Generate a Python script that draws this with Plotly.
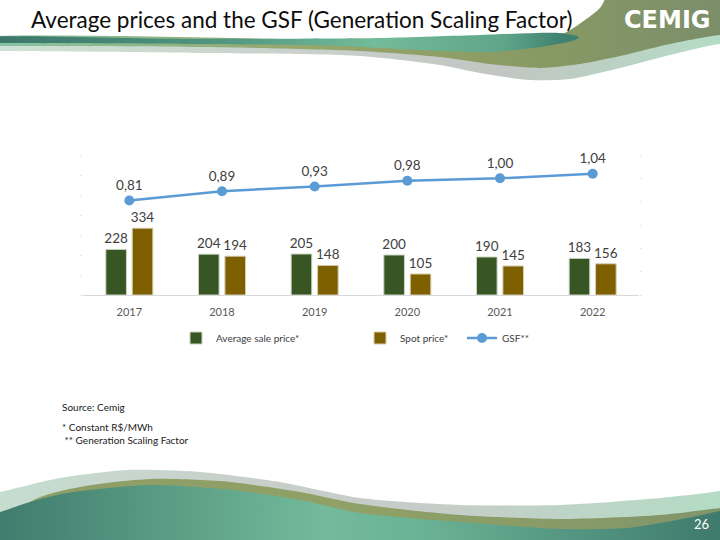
import plotly.graph_objects as go

# ---------------- data ----------------
years = ["2017", "2018", "2019", "2020", "2021", "2022"]
avg_sale_price = [228, 204, 205, 200, 190, 183]
spot_price = [334, 194, 148, 105, 145, 156]
gsf = [0.81, 0.89, 0.93, 0.98, 1.00, 1.04]

title_text = "Average prices and the GSF (Generation Scaling Factor)"
legend_names = ["Average sale price*", "Spot price*", "GSF**"]
notes = ["Source: Cemig", "* Constant R$/MWh", " ** Generation Scaling Factor"]
page_number = "26"

# ---------------- helpers ----------------
W, H = 720, 540
FONT = "Lato"
LABEL_SIZE = 13.5


def px(x):
    return x / W


def py(y):
    return 1 - y / H


fig = go.Figure()


def deco(points, stops):
    xs = [p[0] for p in points] + [points[0][0]]
    ys = [p[1] for p in points] + [points[0][1]]
    fig.add_trace(go.Scatter(
        x=xs, y=ys, mode="lines",
        line=dict(width=0, shape="spline", smoothing=0.7, color="rgba(0,0,0,0)"),
        fill="toself",
        fillgradient=dict(type="horizontal", colorscale=stops, start=0, stop=720),
        xaxis="x3", yaxis="y3", hoverinfo="skip", showlegend=False))


# ---------- header decoration ----------
deco([(-40, 40), (200, 40), (400, 40), (560, 38), (720, 28), (760, 28), (760, 44),
      (720, 44), (670, 55), (620, 68), (570, 79), (530, 80), (480, 73), (440, 65),
      (360, 56), (200, 53), (0, 51), (-40, 51)],
     [[0, "#cfe1d6"], [0.45, "#c9cfcb"], [0.7, "#c2c6c3"], [1, "#b4dcc5"]])

deco([(612, -10), (760, -10), (760, 35), (720, 35), (670, 44), (620, 56), (580, 64),
      (540, 68), (490, 64), (440, 57), (360, 51), (200, 47), (0, 46), (-40, 46),
      (-40, 40), (360, 40), (500, 38), (560, 35), (585, 20), (600, 8)],
     [[0, "#86c3a3"], [0.4, "#96a86c"], [0.75, "#889a63"], [1, "#7b8e6a"]])

deco([(-40, 39), (200, 39), (380, 38), (480, 35), (560, 33), (579, 37), (575, 40),
      (540, 47), (490, 52), (420, 50), (340, 46), (200, 44), (0, 43), (-40, 43)],
     [[0, "#3c786a"], [0.3, "#4f9580"], [0.52, "#74bb9a"], [0.7, "#5ea58a"],
      [0.78, "#3f8070"], [1, "#3e7f70"]])

# ---------- footer decoration ----------
deco([(-40, 500), (0, 492), (60, 478), (127, 470), (200, 472), (280, 482), (360, 498),
      (460, 505), (560, 505), (660, 498), (720, 491), (760, 484), (780, 600), (-60, 600)],
     [[0, "#c6ddd0"], [0.35, "#c8cfcb"], [0.6, "#c6cdc8"], [1, "#b4dcc5"]])

deco([(30, 502), (80, 487), (150, 479), (230, 482), (300, 492), (360, 504), (460, 515),
      (560, 519), (660, 515), (720, 508), (760, 503), (780, 600), (-60, 600)],
     [[0, "#8e9d66"], [0.5, "#8fa166"], [1, "#82956a"]])

deco([(-40, 522), (0, 512), (30, 502), (67, 493), (150, 485), (233, 490), (300, 500),
      (360, 513), (460, 522), (560, 529), (627, 528), (693, 517), (720, 511), (760, 505),
      (780, 600), (-60, 600)],
     [[0, "#3f7c6d"], [0.45, "#73ba9b"], [0.58, "#6bb396"], [1, "#3e7a6d"]])

# ---------------- data traces ----------------
fig.add_trace(go.Bar(
    x=years, y=avg_sale_price, name=legend_names[0],
    marker=dict(color="#375623", line=dict(color="#c9d3c0", width=1)),
    text=[str(v) for v in avg_sale_price], textposition="outside",
    constraintext="none",
    textfont=dict(size=LABEL_SIZE, color="#404040", family=FONT), cliponaxis=False,
    legend="legend", hoverinfo="skip"))

fig.add_trace(go.Bar(
    x=years, y=spot_price, name=legend_names[1],
    marker=dict(color="#7f6000", line=dict(color="#d6cdb0", width=1)),
    text=[str(v) for v in spot_price], textposition="outside",
    constraintext="none",
    textfont=dict(size=LABEL_SIZE, color="#404040", family=FONT), cliponaxis=False,
    legend="legend2", hoverinfo="skip"))

fig.add_trace(go.Scatter(
    x=years, y=gsf, name=legend_names[2], yaxis="y2",
    mode="lines+markers+text",
    line=dict(color="#5b9bd5", width=2.5),
    marker=dict(color="#5b9bd5", size=10),
    text=[f"{v:.2f}".replace(".", ",") for v in gsf], textposition="top center",
    textfont=dict(size=LABEL_SIZE, color="#404040", family=FONT), cliponaxis=False,
    legend="legend3", hoverinfo="skip"))

# ---------------- layout ----------------
leg_common = dict(orientation="h", yanchor="middle", xanchor="left",
                  font=dict(size=10, color="#404040", family=FONT),
                  bgcolor="rgba(0,0,0,0)", borderwidth=0)

fig.update_layout(
    width=W, height=H, margin=dict(l=0, r=0, t=0, b=0),
    paper_bgcolor="white", plot_bgcolor="rgba(0,0,0,0)",
    font=dict(family=FONT, color="#404040"),
    barmode="group", bargap=0.43, bargroupgap=0.22,
    showlegend=True,
    xaxis=dict(domain=[px(83), px(639)], anchor="y", type="category",
               showline=True, linecolor="#d9d9d9", linewidth=1, ticks="",
               ticklabelstandoff=7,
               tickfont=dict(size=11, color="#595959", family=FONT),
               showgrid=False, zeroline=False, fixedrange=True),
    yaxis=dict(domain=[py(295), py(155)], anchor="x", range=[0, 700], dtick=100,
               showticklabels=False, showgrid=False, zeroline=False, showline=False,
               ticks="outside", ticklen=2, tickcolor="#e8e8e8"),
    yaxis2=dict(overlaying="y", side="right", anchor="x", range=[0, 1.2], dtick=0.2,
                showticklabels=False, showgrid=False, zeroline=False, showline=False,
                ticks="outside", ticklen=2, tickcolor="#e8e8e8"),
    xaxis3=dict(domain=[0, 1], range=[0, W], visible=False, anchor="y3", fixedrange=True),
    yaxis3=dict(domain=[0, 1], range=[H, 0], visible=False, anchor="x3", fixedrange=True),
    legend=dict(x=px(176), y=py(338), **leg_common),
    legend2=dict(x=px(360), y=py(338), **leg_common),
    legend3=dict(x=px(462), y=py(338), **leg_common),
)

annotations = [
    dict(text=title_text, x=px(29), y=py(19), xanchor="left", yanchor="middle",
         font=dict(size=22.5, color="#0d0d0d", family=FONT)),
    dict(text="<b>CEMIG</b>", x=px(667), y=py(20), xanchor="center", yanchor="middle",
         font=dict(size=24, color="white", family="DejaVu Sans")),
    dict(text=notes[0], x=px(60), y=py(407), xanchor="left", yanchor="middle",
         font=dict(size=10, color="#1a1a1a", family=FONT)),
    dict(text=notes[1], x=px(60), y=py(427), xanchor="left", yanchor="middle",
         font=dict(size=10, color="#1a1a1a", family=FONT)),
    dict(text=notes[2], x=px(60), y=py(440), xanchor="left", yanchor="middle",
         font=dict(size=10, color="#1a1a1a", family=FONT)),
    dict(text=page_number, x=px(711), y=py(524), xanchor="right", yanchor="middle",
         font=dict(size=13, color="white", family=FONT)),
]
for a in annotations:
    a.update(xref="paper", yref="paper", showarrow=False)
fig.update_layout(annotations=annotations)

fig.write_html("out.html",
               config={"displayModeBar": False, "staticPlot": True},
               post_script="document.body.style.margin='0px';"
                           "document.body.style.overflow='hidden';")
